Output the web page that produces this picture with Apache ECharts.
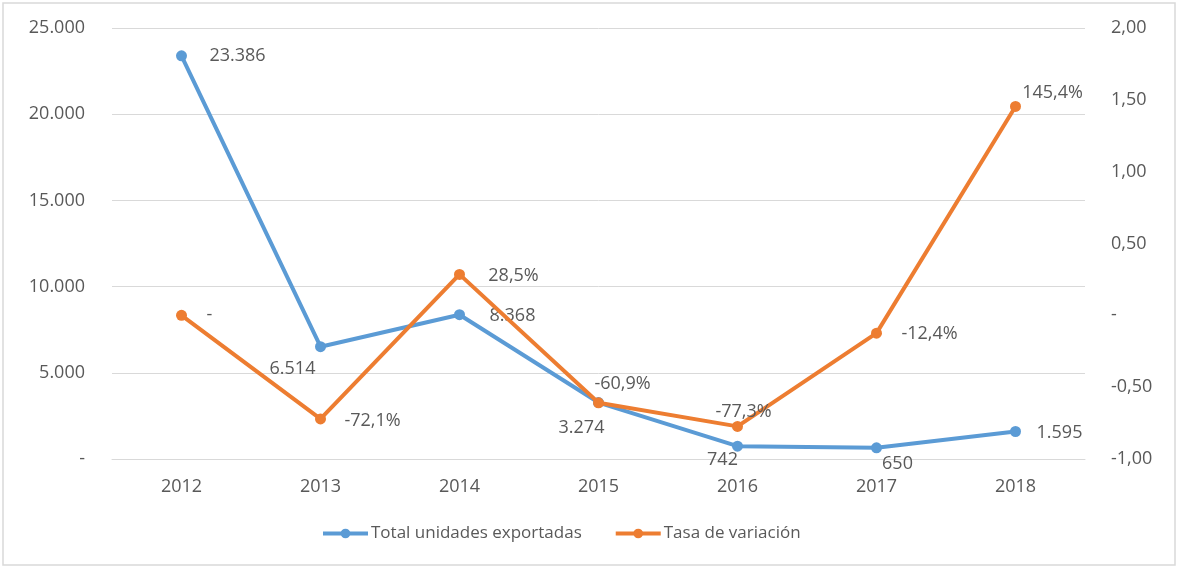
<!DOCTYPE html>
<html>
<head>
<meta charset="utf-8">
<style>
  html, body { margin: 0; padding: 0; background: #fff; }
  #chart { width: 1178px; height: 569px; }
</style>
<script src="https://cdn.jsdelivr.net/npm/echarts@6/dist/echarts.min.js"></script>
</head>
<body>
<div id="chart"></div>
<script>
// Data
const years = ['2012', '2013', '2014', '2015', '2016', '2017', '2018'];
const totalUnits = [23386, 6514, 8368, 3274, 742, 650, 1595];
const changeRate = [0, -0.721, 0.285, -0.609, -0.773, -0.124, 1.454];

// label offsets from point centre (px)
const unitsLabelOffset = [[56, 0], [-28, 22], [53, 1], [-17, 25], [-15, 14], [21, 16], [44, 1]];
const rateLabelOffset = [[28, 0], [52, 2], [54, 1], [24, -19], [6, -15], [53, 1], [37, -14]];

const font = '"Open Sans", "Noto Sans", sans-serif';
const textColor = '#595959';

function thousands(v) {
  if (v === 0) return '-';
  return String(Math.round(v)).replace(/\B(?=(\d{3})+(?!\d))/g, '.');
}
function pct(v) {
  if (v === 0) return '-';
  return (v * 100).toFixed(1).replace('.', ',') + '%';
}
function twoDec(v) {
  if (Math.abs(v) < 1e-9) return '-';
  return v.toFixed(2).replace('.', ',');
}

const chart = echarts.init(document.getElementById('chart'));

chart.setOption({
  backgroundColor: '#fff',
  textStyle: { fontFamily: font },
  animation: false,
  graphic: [{
    type: 'rect',
    shape: { x: 3, y: 3, width: 1172, height: 562 },
    style: { fill: 'none', stroke: '#d9d9d9', lineWidth: 1.5 },
    silent: true
  }],
  grid: { left: 112, right: 93, top: 28, bottom: 110 },
  legend: {
    bottom: 22,
    left: 316,
    itemWidth: 45,
    itemHeight: 12,
    itemGap: 32,
    lineStyle: { width: 4 },
    textStyle: { color: textColor, fontSize: 17, fontFamily: font, padding: [0, 0, 0, -2] },
    data: ['Total unidades exportadas', 'Tasa de variación']
  },
  xAxis: {
    type: 'category',
    data: years,
    boundaryGap: true,
    axisLine: { show: true, lineStyle: { color: '#d9d9d9' } },
    axisTick: { show: false },
    axisLabel: { color: textColor, fontSize: 18, margin: 19 }
  },
  yAxis: [{
    type: 'value',
    min: 0,
    max: 25000,
    interval: 5000,
    axisLine: { show: false },
    axisTick: { show: false },
    splitLine: { lineStyle: { color: '#d9d9d9' } },
    axisLabel: { color: textColor, fontSize: 18, margin: 27, formatter: thousands }
  }, {
    type: 'value',
    min: -1,
    max: 2,
    interval: 0.5,
    axisLine: { show: false },
    axisTick: { show: false },
    splitLine: { show: false },
    axisLabel: { color: textColor, fontSize: 18, margin: 26, formatter: twoDec }
  }],
  series: [{
    name: 'Total unidades exportadas',
    type: 'line',
    yAxisIndex: 0,
    symbol: 'circle',
    symbolSize: 11,
    lineStyle: { width: 4, color: '#5B9BD5' },
    itemStyle: { color: '#5B9BD5' },
    data: totalUnits.map((v, i) => ({
      value: v,
      label: { offset: unitsLabelOffset[i] }
    })),
    label: {
      show: true,
      position: 'inside',
      color: textColor,
      fontSize: 18,
      formatter: p => thousands(p.value)
    },
    z: 2
  }, {
    name: 'Tasa de variación',
    type: 'line',
    yAxisIndex: 1,
    symbol: 'circle',
    symbolSize: 11,
    lineStyle: { width: 4, color: '#ED7D31' },
    itemStyle: { color: '#ED7D31' },
    data: changeRate.map((v, i) => ({
      value: v,
      label: { offset: rateLabelOffset[i] }
    })),
    label: {
      show: true,
      position: 'inside',
      color: textColor,
      fontSize: 18,
      formatter: p => pct(p.value)
    },
    z: 3
  }]
});
</script>
</body>
</html>
